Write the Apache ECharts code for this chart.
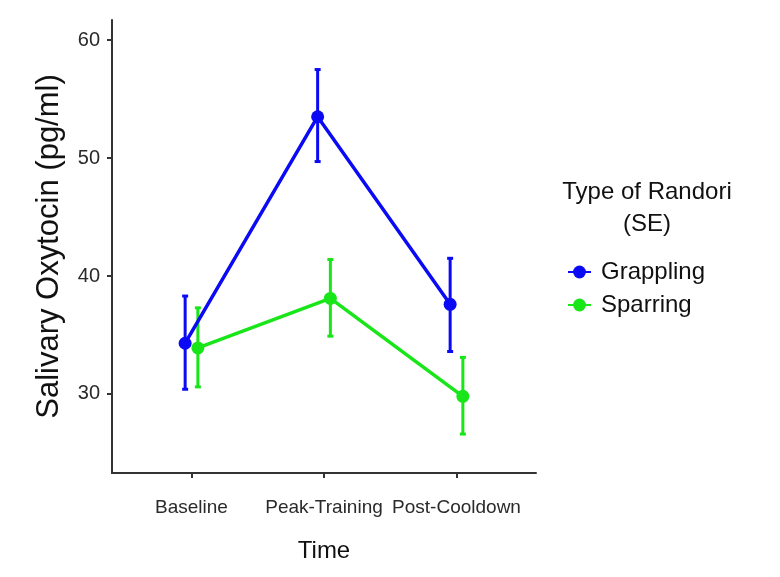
<!DOCTYPE html>
<html>
<head>
<meta charset="utf-8">
<script src="https://cdn.jsdelivr.net/npm/echarts@6/dist/echarts.min.js"></script>
<style>
html,body{margin:0;padding:0;background:#fff;}
#chart{width:780px;height:577px;}
</style>
</head>
<body>
<div id="chart"></div>
<script>
// ---- data ----
var categories = ['Baseline', 'Peak-Training', 'Post-Cooldown'];
var groups = ['Grappling', 'Sparring'];
var grapplingMean = [34.3, 53.5, 37.6];
var grapplingLow  = [30.4, 49.7, 33.6];
var grapplingHigh = [38.3, 57.5, 41.5];
var sparringMean  = [33.9, 38.1, 29.8];
var sparringLow   = [30.6, 34.9, 26.6];
var sparringHigh  = [37.3, 41.4, 33.1];
var yTicks = [30, 40, 50, 60];

// ---- styling ----
var colors = {Grappling: '#0a0af5', Sparring: '#18e618'};
var dodge = {Grappling: -0.048, Sparring: 0.048};
var FONT = "'Liberation Sans', Arial, Helvetica, sans-serif";

function pts(mean, g) {
  return mean.map(function (v, i) { return [i + 1 + dodge[g], v]; });
}
function bars(low, high, g) {
  return low.map(function (v, i) { return [i + 1 + dodge[g], v, high[i]]; });
}

function errRender(color) {
  return function (params, api) {
    var x = api.value(0);
    var lo = api.coord([x, api.value(1)]);
    var hi = api.coord([x, api.value(2)]);
    var cap = 3;
    var st = {stroke: color, lineWidth: 3};
    return {
      type: 'group',
      children: [
        {type: 'line', shape: {x1: lo[0], y1: lo[1], x2: hi[0], y2: hi[1]}, style: st},
        {type: 'line', shape: {x1: lo[0] - cap, y1: lo[1], x2: lo[0] + cap, y2: lo[1]}, style: st},
        {type: 'line', shape: {x1: hi[0] - cap, y1: hi[1], x2: hi[0] + cap, y2: hi[1]}, style: st}
      ]
    };
  };
}

var series = [];
[['Grappling', grapplingMean, grapplingLow, grapplingHigh],
 ['Sparring', sparringMean, sparringLow, sparringHigh]].forEach(function (s) {
  var g = s[0], c = colors[g];
  series.push({
    type: 'line', name: g, data: pts(s[1], g),
    symbol: 'circle', symbolSize: 13,
    lineStyle: {color: c, width: 3.5},
    itemStyle: {color: c},
    z: 3
  });
  series.push({
    type: 'custom', name: g + ' (SE)', renderItem: errRender(c),
    itemStyle: {color: c},
    data: bars(s[2], s[3], g), encode: {x: 0, y: [1, 2]}, z: 2, silent: true
  });
});

var chart = echarts.init(document.getElementById('chart'), null, {renderer: 'canvas'});
chart.setOption({
  animation: false,
  backgroundColor: '#fff',
  grid: {left: 112, right: 244, top: 20, bottom: 104, containLabel: false},
  xAxis: {
    type: 'value', min: 0.4, max: 3.6,
    name: 'Time', nameLocation: 'middle', nameGap: 66,
    nameTextStyle: {fontFamily: FONT, fontSize: 24, color: '#111'},
    axisLine: {show: true, onZero: false, lineStyle: {color: '#333', width: 2}},
    axisTick: {show: true, length: 5, customValues: [1, 2, 3], lineStyle: {color: '#333', width: 2}},
    axisLabel: {
      customValues: [1, 2, 3], margin: 25,
      fontFamily: FONT, fontSize: 19, color: '#2a2a2a',
      formatter: function (v) { return categories[Math.round(v) - 1]; }
    },
    splitLine: {show: false}
  },
  yAxis: {
    type: 'value', min: 23.3, max: 61.7,
    name: 'Salivary Oxytocin (pg/ml)', nameLocation: 'middle', nameGap: 47, nameRotate: 90,
    nameTextStyle: {fontFamily: FONT, fontSize: 31, color: '#111'},
    axisLine: {show: true, lineStyle: {color: '#333', width: 2}},
    axisTick: {show: true, length: 5, customValues: yTicks, lineStyle: {color: '#333', width: 2}},
    axisLabel: {
      customValues: yTicks, margin: 12,
      fontFamily: FONT, fontSize: 20, color: '#2a2a2a'
    },
    splitLine: {show: false}
  },
  legend: {
    data: groups,
    orient: 'vertical', left: 562, top: 255,
    itemWidth: 23, itemHeight: 16, itemGap: 9,
    textStyle: {fontFamily: FONT, fontSize: 24, color: '#111', padding: [0, 0, 0, 5]},
    selectedMode: false
  },
  graphic: [{
    type: 'text', x: 647, y: 176,
    style: {text: 'Type of Randori\n(SE)', font: '24px ' + FONT, fill: '#111', align: 'center', verticalAlign: 'top', lineHeight: 32}
  }],
  series: series
});
</script>
</body>
</html>
